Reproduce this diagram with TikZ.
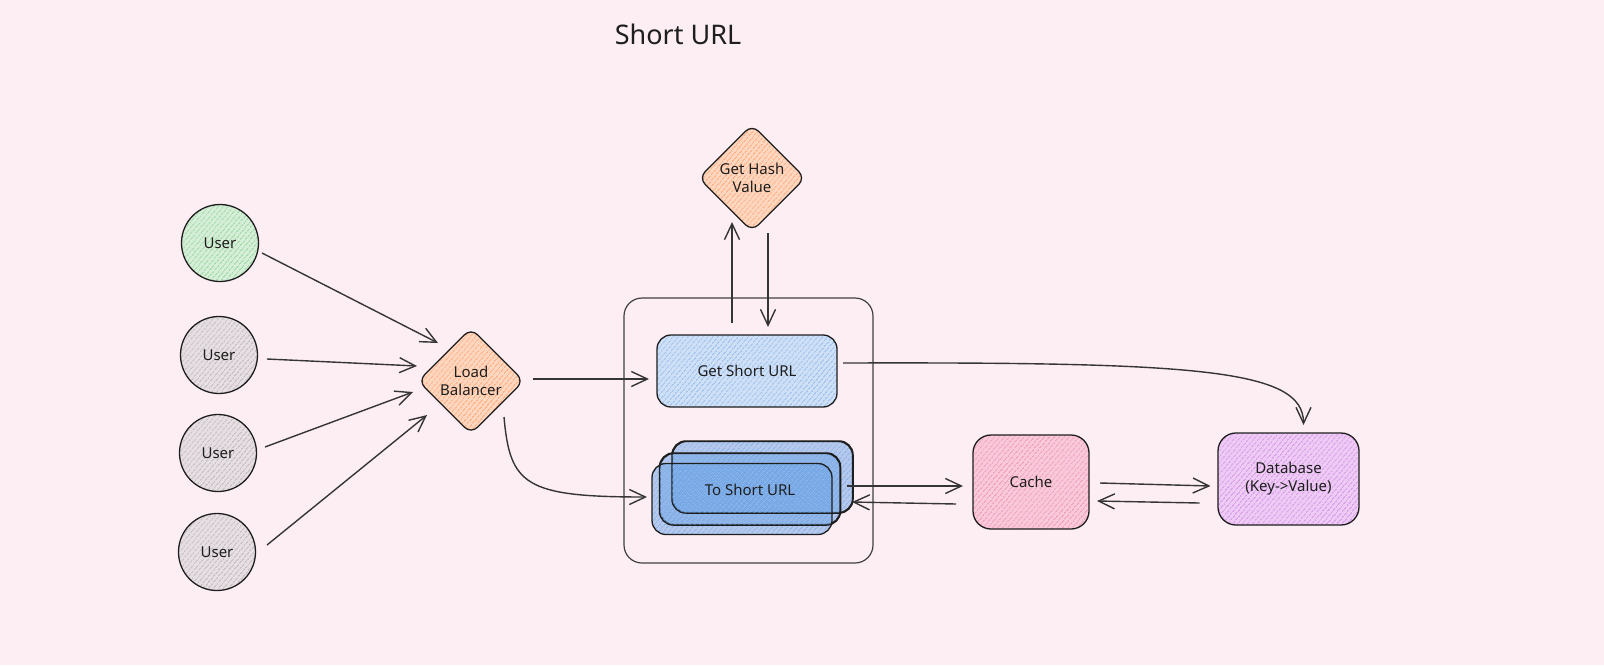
\documentclass[tikz,border=0pt]{standalone}
\usepackage{fontspec}
\setmainfont{Noto Sans}
\usetikzlibrary{shapes.geometric,arrows.meta,patterns.meta,calc}
\definecolor{bg}{HTML}{FDEEF4}
\definecolor{ink}{HTML}{1E1E1E}
\definecolor{arrowc}{HTML}{353535}
\definecolor{grfill}{HTML}{D6EED7}
\definecolor{grline}{HTML}{8ED49A}
\definecolor{gyfill}{HTML}{E6DEE2}
\definecolor{gyline}{HTML}{BDB4B9}
\definecolor{orfill}{HTML}{FDD6BF}
\definecolor{orline}{HTML}{FFA36E}
\definecolor{blfill}{HTML}{CFE0F6}
\definecolor{blline}{HTML}{8DB8EC}
\definecolor{tsfillc}{HTML}{5E9BE3}
\definecolor{tsline}{HTML}{7EAEEA}
\definecolor{pkfill}{HTML}{F9C9DA}
\definecolor{pkline}{HTML}{EE8FB3}
\definecolor{vifill}{HTML}{EECBF4}
\definecolor{viline}{HTML}{D38BE7}
\begin{document}
\begin{tikzpicture}[x=1pt,y=-1pt,
  every node/.style={font=\fontsize{15}{18}\selectfont, text=ink},
  shp/.style={draw=ink, line width=1.3pt, inner sep=0pt, align=center},
  hatch/.style 2 args={preaction={fill=#1}, pattern={Lines[angle=50,distance=4pt,line width=1.1pt]}, pattern color=#2},
  usr/.style={shp, circle, minimum size=77pt},
  dia/.style={shp, diamond, minimum width=106pt, minimum height=106pt, rounded corners=9pt, hatch={orfill}{orline}},
  rbox/.style={shp, rectangle, rounded corners=14pt},
  tsbox/.style={rbox, minimum width=180pt, minimum height=71pt, preaction={fill=tsfillc, fill opacity=0.45}, pattern={Lines[angle=50,distance=4pt,line width=1.1pt]}, pattern color=tsline},
  outl/.style={draw=ink, line width=1.2pt, rounded corners=14pt},
  arr/.style={draw=arrowc, line width=1.4pt, -{Straight Barb[length=16pt,width=15pt]}},
]
\useasboundingbox (0,0) rectangle (1604,665);
\fill[bg] (0,0) rectangle (1604,665);

\node (title) at (678,34) {\fontsize{27}{32}\selectfont Short URL};

% users
\node[usr, hatch={grfill}{grline}] (u1) at (220,243) {User};
\node[usr, hatch={gyfill}{gyline}] (u2) at (219,355) {User};
\node[usr, hatch={gyfill}{gyline}] (u3) at (218,453) {User};
\node[usr, hatch={gyfill}{gyline}] (u4) at (217,552) {User};

% load balancer and hash
\node[dia] (lb) at (471,381) {Load\\Balancer};
\node[dia, minimum width=107pt, minimum height=107pt] (ghv) at (752,178) {Get Hash\\Value};

% service container
\node[shp, rectangle, rounded corners=18pt, minimum width=249pt, minimum height=265pt, line width=1.2pt, draw=ink!85] (svc) at (748.5,430.5) {};

\node[rbox, minimum width=180pt, minimum height=72pt, hatch={blfill}{blline}] (gsu) at (747,371) {Get Short URL};

\node[tsbox] (tsb) at (762.5,477) {};
\node[tsbox] (tsm) at (750,489) {};
\node[tsbox] (tsf) at (742,499) {};
% outlines of the stacked boxes, visible through the front fills
\draw[outl] (tsb.north west) rectangle (tsb.south east);
\draw[outl] (tsm.north west) rectangle (tsm.south east);
\node (tst) at (750,490) {To Short URL};

% cache and database
\node[rbox, rounded corners=18pt, minimum width=116pt, minimum height=94pt, hatch={pkfill}{pkline}] (cache) at (1031,482) {Cache};
\node[rbox, rounded corners=18pt, minimum width=141pt, minimum height=92pt, hatch={vifill}{viline}] (db) at (1288.5,479) {Database\\(Key->Value)};

% user arrows
\draw[arr] ($(u1)+(42,10)$) -- ($(lb)+(-33,-38)$);
\draw[arr] ($(u2)+(48,4)$) -- ($(lb)+(-54,-15)$);
\draw[arr] ($(u3)+(47,-6)$) -- ($(lb)+(-58,11)$);
\draw[arr] ($(u4)+(50,-7)$) -- ($(lb)+(-44,34)$);

% load balancer arrows
\draw[arr] ($(lb)+(62,-2)$) -- ($(gsu)+(-98,8)$);
\draw[arr] ($(lb)+(33,36)$) .. controls ($(lb)+(39,104)$) and ($(lb)+(54,116)$) .. ($(tsf)+(-95,-2)$);

% hash arrows
\draw[arr] ($(gsu)+(-15,-48)$) -- ($(ghv)+(-20,44)$);
\draw[arr] ($(ghv)+(16,55)$) -- ($(gsu)+(21,-44)$);

% get short url to db
\draw[arr] ($(gsu)+(96,-8)$) .. controls ($(gsu)+(450,-9)$) and ($(db)+(15,-110)$) .. ($(db)+(15,-54)$);

% to short url <-> cache <-> db
\draw[arr] ($(tsf)+(105,-13)$) -- ($(cache)+(-68,4)$);
\draw[arr] ($(cache)+(-75,22)$) -- ($(tsf)+(110,3)$);
\draw[arr] ($(cache)+(69,1)$) -- ($(db)+(-78,7)$);
\draw[arr] ($(db)+(-89,24)$) -- ($(cache)+(66,19)$);
\end{tikzpicture}
\end{document}
